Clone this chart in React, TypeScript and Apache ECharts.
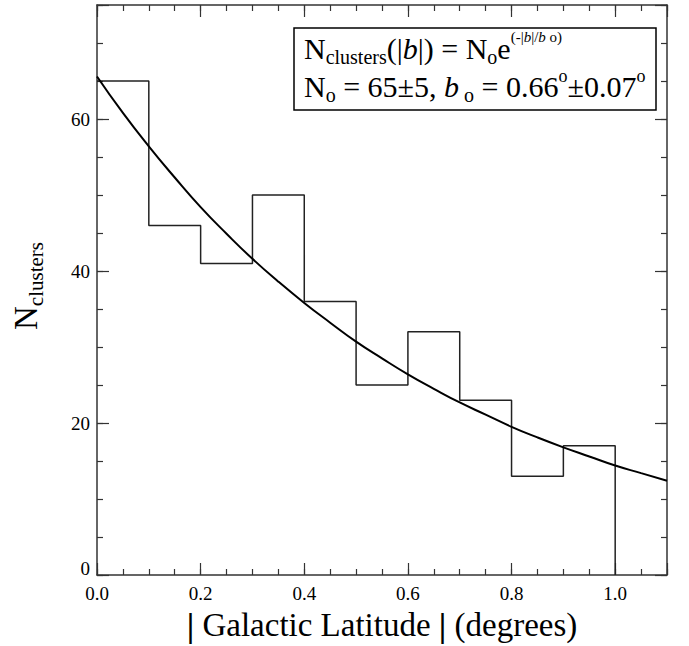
import React, { useEffect, useRef } from "react";
import * as echarts from "echarts";

// Histogram bins (left edges) and counts
const binLeft = [0.0, 0.1, 0.2, 0.3, 0.4, 0.5, 0.6, 0.7, 0.8, 0.9];
const binRightEnd = 1.0;
const counts = [65, 46, 41, 50, 36, 25, 32, 23, 13, 17];

// Fitted curve
const fitX = [0.0, 0.05, 0.1, 0.15, 0.2, 0.25, 0.3, 0.35, 0.4, 0.45, 0.5, 0.55, 0.6, 0.65, 0.7, 0.75, 0.8, 0.85, 0.9, 0.95, 1.0, 1.05, 1.1];
const fitY = [65.6, 60.8, 56.4, 52.3, 48.4, 44.9, 41.6, 38.6, 35.8, 33.2, 30.7, 28.5, 26.4, 24.5, 22.7, 21.1, 19.5, 18.1, 16.8, 15.6, 14.4, 13.4, 12.4];

const FONT = "Liberation Serif";
const AXIS_COLOR = "#333";

function tickRich() {
  return {
    t: { fontFamily: FONT, fontSize: 19, fill: "#000", color: "#000" },
    z: { fontFamily: FONT, fontSize: 19, fill: "#000", color: "#000", padding: [0, 0, 14, 0] },
  };
}

function xAxisDef(position: "bottom" | "top", interval: number, major: boolean) {
  return {
    type: "value",
    position,
    min: 0,
    max: 1.1,
    interval,
    axisLine: { show: major, onZero: false, lineStyle: { color: AXIS_COLOR, width: 1.5 } },
    axisTick: { show: true, inside: true, length: major ? 12 : 6, lineStyle: { color: AXIS_COLOR, width: 1.2 } },
    axisLabel: {
      show: major && position === "bottom",
      formatter: (v: number) => (v > 1.05 ? "" : "{t|" + v.toFixed(1) + "}"),
      fontFamily: FONT,
      fontSize: 19,
      color: "#000",
      margin: 9,
      rich: tickRich(),
    },
    splitLine: { show: false },
  };
}

function yAxisDef(position: "left" | "right", interval: number, major: boolean) {
  return {
    type: "value",
    position,
    min: 0,
    max: 75,
    interval,
    axisLine: { show: major, onZero: false, lineStyle: { color: AXIS_COLOR, width: 1.5 } },
    axisTick: { show: true, inside: true, length: major ? 12 : 6, lineStyle: { color: AXIS_COLOR, width: 1.2 } },
    axisLabel: {
      show: major && position === "left",
      formatter: (v: number) => (v > 70 ? "" : v === 0 ? "{z|0}" : "{t|" + String(v) + "}"),
      fontFamily: FONT,
      fontSize: 19,
      color: "#000",
      margin: 7,
      rich: tickRich(),
    },
    splitLine: { show: false },
  };
}

export default function App() {
  const ref = useRef<HTMLDivElement>(null);

  useEffect(() => {
    document.body.style.margin = "0";
    if (!ref.current) return;
    const chart = echarts.init(ref.current, null, { renderer: "svg" });

    const histData: number[][] = binLeft.map((x, i) => [x, counts[i]]);
    histData.push([binRightEnd, 0]);
    const fitData = fitX.map((x, i) => [x, fitY[i]]);

    const legendText =
      "{m|N}{s|clusters}{m|(|}{mi|b}{m||) = N}{s|o}{m|e}{p|(-|}{pi|b}{p||/}{pi|b}{p| o)}\n" +
      "{m|N}{s|o}{m| = 65±5, }{mi|b}{s| o}{m| = 0.66}{d|o}{m|±0.07}{d|o}";

    chart.setOption({
      animation: false,
      backgroundColor: "#fff",
      grid: { left: 97, right: 22, top: 5, bottom: 71, containLabel: false },
      xAxis: [
        xAxisDef("bottom", 0.2, true),
        xAxisDef("bottom", 0.05, false),
        xAxisDef("top", 0.2, true),
        xAxisDef("top", 0.05, false),
      ],
      yAxis: [
        yAxisDef("left", 20, true),
        yAxisDef("left", 5, false),
        yAxisDef("right", 20, true),
        yAxisDef("right", 5, false),
      ],
      series: [
        {
          type: "line",
          xAxisIndex: 0,
          yAxisIndex: 0,
          data: histData,
          step: "end",
          symbol: "none",
          lineStyle: { color: "#222", width: 1.5 },
          z: 3,
        },
        {
          type: "line",
          xAxisIndex: 0,
          yAxisIndex: 0,
          data: fitData,
          smooth: true,
          symbol: "none",
          lineStyle: { color: "#000", width: 2 },
          z: 4,
        },
      ],
      graphic: [
        {
          type: "rect",
          z: 10,
          shape: { x: 294, y: 28, width: 362, height: 82 },
          style: { fill: "#fff", stroke: "#000", lineWidth: 1.5 },
        },
        {
          type: "text",
          z: 11,
          x: 304,
          y: 29,
          style: {
            text: legendText,
            fontFamily: FONT,
            fontSize: 30,
            fill: "#000",
            align: "left",
            verticalAlign: "top",
            rich: {
              m: { fontFamily: FONT, fontSize: 30, lineHeight: 38, fill: "#000" },
              mi: { fontFamily: FONT, fontSize: 30, lineHeight: 38, fontStyle: "italic", fill: "#000" },
              s: { fontFamily: FONT, fontSize: 20, lineHeight: 20, verticalAlign: "bottom", fill: "#000" },
              p: { fontFamily: FONT, fontSize: 15, lineHeight: 7, verticalAlign: "top", fill: "#000" },
              pi: { fontFamily: FONT, fontSize: 15, lineHeight: 7, verticalAlign: "top", fontStyle: "italic", fill: "#000" },
              d: { fontFamily: FONT, fontSize: 18, lineHeight: 29, verticalAlign: "top", fill: "#000" },
            },
          },
        },
        {
          type: "text",
          z: 11,
          x: 382,
          y: 625,
          style: {
            text: "{bar||}{w| Galactic Latitude }{bar||}{w| (degrees)}",
            fontFamily: FONT,
            fontSize: 33,
            fill: "#000",
            align: "center",
            verticalAlign: "middle",
            rich: {
              bar: { fontFamily: FONT, fontSize: 34, fontWeight: "bold", lineHeight: 40, fill: "#000" },
              w: { fontFamily: FONT, fontSize: 33, lineHeight: 40, fill: "#000" },
            },
          },
        },
        {
          type: "text",
          z: 11,
          x: 26,
          y: 286,
          rotation: Math.PI / 2,
          style: {
            text: "{n|N}{s|clusters}",
            fontFamily: FONT,
            fontSize: 33,
            fill: "#000",
            align: "center",
            verticalAlign: "middle",
            rich: {
              n: { fontFamily: FONT, fontSize: 33, lineHeight: 40, fill: "#000" },
              s: { fontFamily: FONT, fontSize: 21, lineHeight: 16, verticalAlign: "bottom", fill: "#000" },
            },
          },
        },
      ],
    });

    return () => {
      chart.dispose();
    };
  }, []);

  return <div ref={ref} style={{ width: 689, height: 646 }} />;
}
